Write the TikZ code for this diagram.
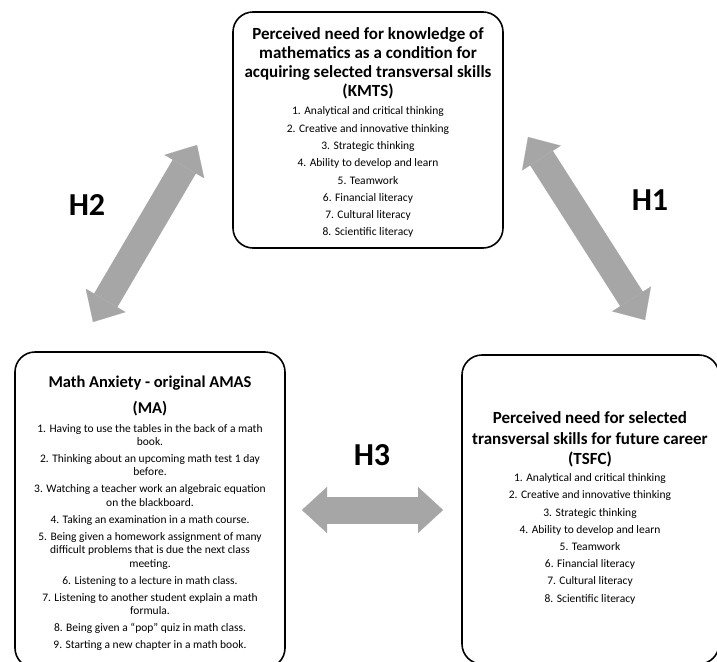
\documentclass[tikz,border=0pt]{standalone}
\usepackage{fontspec}
\setmainfont{Carlito}
\usetikzlibrary{arrows.meta}
\definecolor{arrowgray}{HTML}{A6A6A6}
\begin{document}
\begin{tikzpicture}[x=1pt,y=-1pt,
  box/.style={draw=black, line width=1.6pt, rounded corners=20pt, inner sep=0pt},
  ttl/.style={font=\fontsize{17}{19}\selectfont\bfseries, align=center, anchor=north, inner sep=0pt},
  items/.style={font=\fontsize{11.5}{13.3}\selectfont, align=center, anchor=north, inner sep=0pt},
  hlab/.style={font=\fontsize{32}{36}\selectfont\bfseries, inner sep=0pt},
  fat/.style={draw=arrowgray, line width=27pt,
    {Triangle[width=46pt,length=25pt,line width=0.1pt]}-{Triangle[width=46pt,length=25pt,line width=0.1pt]}}
]
\useasboundingbox (0,0) rectangle (717,661);
\clip (0,0) rectangle (717,661);
\fill[white] (0,0) rectangle (717,661);

% boxes
\node[box, minimum width=270pt, minimum height=236pt] (kmts) at (368,130) {};
\node[box, minimum width=270pt, minimum height=316pt] (ma) at (150,510) {};
\node[box, minimum width=257pt, minimum height=309pt] (tsfc) at (590.5,509.5) {};

% top box text
\node[ttl] (kmtsT) at (368,27.5) {Perceived need for knowledge of\\mathematics as a condition for\\acquiring selected transversal skills\\(KMTS)};
\node[items, font=\fontsize{11.5}{17.3}\selectfont] (kmtsI) at (368,106.7) {1. Analytical and critical thinking\\2. Creative and innovative thinking\\3. Strategic thinking\\4. Ability to develop and learn\\5. Teamwork\\6. Financial literacy\\7. Cultural literacy\\8. Scientific literacy};

% left box text
\node[ttl, font=\fontsize{16.5}{26}\selectfont\bfseries] (maT) at (150,376) {Math Anxiety - original AMAS\\(MA)};
\node[items] (maI) at (150,424) {1. Having to use the tables in the back of a math\\book.\\[3.8pt]
2. Thinking about an upcoming math test 1 day\\before.\\[3.8pt]
3. Watching a teacher work an algebraic equation\\on the blackboard.\\[3.8pt]
4. Taking an examination in a math course.\\[3.8pt]
5. Being given a homework assignment of many\\difficult problems that is due the next class\\meeting.\\[3.8pt]
6. Listening to a lecture in math class.\\[3.8pt]
7. Listening to another student explain a math\\formula.\\[3.8pt]
8. Being given a “pop” quiz in math class.\\[3.8pt]
9. Starting a new chapter in a math book.};

% right box text
\node[ttl, font=\fontsize{17}{20.5}\selectfont\bfseries] (tsfcT) at (590,411.5) {Perceived need for selected\\transversal skills for future career\\(TSFC)};
\node[items, font=\fontsize{11.5}{17.2}\selectfont] (tsfcI) at (590,473.5) {1. Analytical and critical thinking\\2. Creative and innovative thinking\\3. Strategic thinking\\4. Ability to develop and learn\\5. Teamwork\\6. Financial literacy\\7. Cultural literacy\\8. Scientific literacy};

% arrows
\coordinate (h2a) at (93,322);
\coordinate (h2b) at (197,145);
\coordinate (h1a) at (528,137);
\coordinate (h1b) at (645,320);
\coordinate (h3a) at (302,510);
\coordinate (h3b) at (443,510);
\draw[fat] (h2a) -- (h2b);
\draw[fat] (h1a) -- (h1b);
\draw[fat] (h3a) -- (h3b);

% labels
\node[hlab] (H2) at (87,205) {H2};
\node[hlab] (H1) at (650,200) {H1};
\node[hlab] (H3) at (372,455) {H3};
\end{tikzpicture}
\end{document}
